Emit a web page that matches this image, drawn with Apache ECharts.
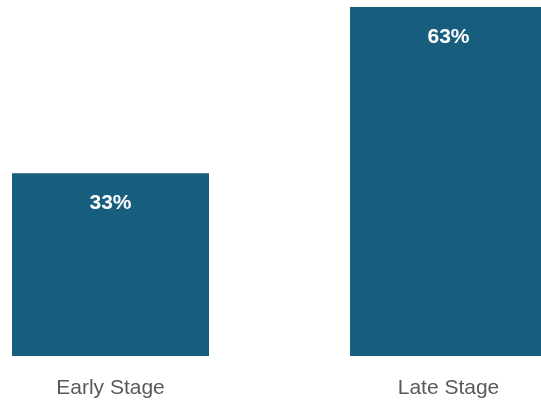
<!DOCTYPE html>
<html><head><meta charset="utf-8">
<script src="https://cdn.jsdelivr.net/npm/echarts@6/dist/echarts.min.js"></script>
<style>html,body{margin:0;padding:0;background:#fff}#c{width:541px;height:404px}</style>
</head><body><div id="c"></div>
<script>
const categories = ["Early Stage", "Late Stage"];
const values = [33, 63];
const FONT = "'Liberation Sans Narrow', 'Arial Narrow', 'Liberation Sans', sans-serif";
const chart = echarts.init(document.getElementById('c'), null, {renderer: 'canvas'});
chart.setOption({
  animation: false,
  grid: {left: -58.5, top: 7, width: 676, height: 349, containLabel: false, outerBoundsMode: 'none'},
  xAxis: {
    type: 'category', data: categories,
    axisLine: {show: false}, axisTick: {show: false},
    axisLabel: {color: '#595959', fontSize: 21, fontFamily: FONT, margin: 22}
  },
  yAxis: {type: 'value', min: 0, max: 63, show: false, splitLine: {show: false}},
  series: [{
    type: 'bar', data: values, barWidth: 197,
    itemStyle: {color: '#175E7E'},
    label: {show: true, position: 'insideTop', distance: 20, color: '#fff', fontWeight: 'bold',
      fontSize: 21, fontFamily: FONT, formatter: p => p.value + '%'}
  }]
});
</script></body></html>
